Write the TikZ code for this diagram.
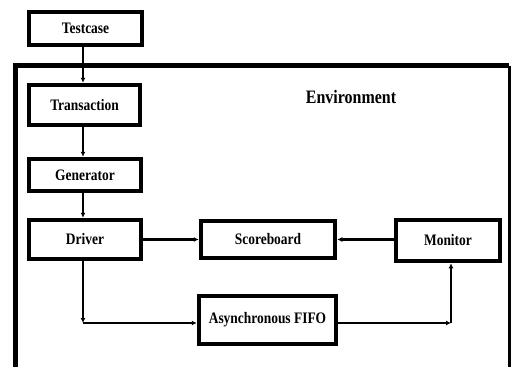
\documentclass[tikz,border=0pt]{standalone}
\usepackage{fontspec}
\setmainfont{Liberation Serif}[FakeStretch=0.84]
\usetikzlibrary{arrows.meta}
\begin{document}
\begin{tikzpicture}[
    x={(1pt,0pt)}, y={(0pt,-1pt)},
    blk/.style={draw,line width=4.5pt,inner sep=0pt,font=\fontsize{16}{18}\selectfont\bfseries},
    conn/.style={line width=2.2pt,-{Latex[length=5pt,width=5pt]}}]
    \useasboundingbox (0,0) rectangle (512,367);
    % environment frame, open at the bottom
    \draw[line width=4.5pt] (15.5,367) -- (15.5,65.5) -- (509,65.5);
    \draw[line width=3pt] (509,65.5) -- (509,367);
    \node[font=\fontsize{19}{21}\selectfont\bfseries] (env) at (351,97) {Environment};
    \node[blk,minimum width=113pt,minimum height=33pt] (tc) at (85.5,28.5) {Testcase};
    \node[blk,minimum width=111pt,minimum height=40pt] (tr) at (84.5,105) {Transaction};
    \node[blk,minimum width=112pt,minimum height=32pt] (gen) at (85,175) {Generator};
    \node[blk,minimum width=112pt,minimum height=39pt] (drv) at (85,239.5) {Driver};
    \node[blk,minimum width=134pt,minimum height=37pt] (sb) at (268,239.5) {Scoreboard};
    \node[blk,minimum width=104pt,minimum height=41pt] (mon) at (448,240.5) {Monitor};
    \node[blk,minimum width=137pt,minimum height=48pt] (fifo) at (267.5,320) {Asynchronous FIFO};
    \coordinate (dc) at (83,323);
    \coordinate (mc) at (451,323);
    \draw[conn] (tc.south -| 83,0) -- (tr.north -| 83,0);
    \draw[conn] (tr.south -| 83,0) -- (gen.north -| 83,0);
    \draw[conn] (gen.south -| 83,0) -- (drv.north -| 83,0);
    \draw[conn] (drv.east) -- (sb.west);
    \draw[conn] (mon.west |- sb.east) -- (sb.east);
    \draw[conn] (drv.south -| dc) -- (dc);
    \draw[conn] (dc) -- (fifo.west |- dc);
    \draw[conn] (fifo.east |- mc) -- (mc);
    \draw[conn] (mc) -- (mon.south -| mc);
\end{tikzpicture}
\end{document}
